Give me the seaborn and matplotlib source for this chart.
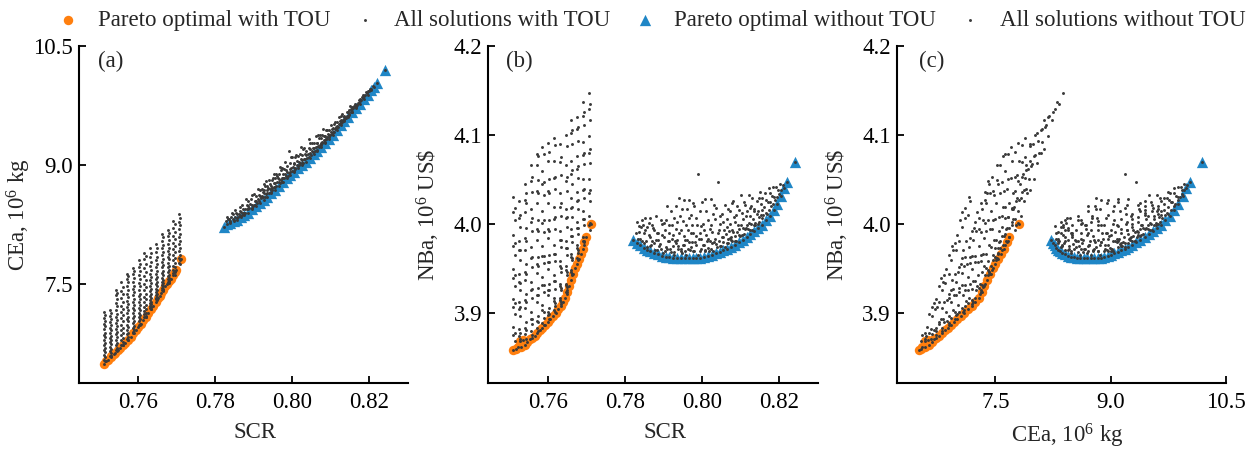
import matplotlib
matplotlib.use("Agg")
import matplotlib.pyplot as plt
import seaborn as sns
import pandas as pd

sns.set_theme(style="ticks")
plt.rcParams["font.family"] = ["Liberation Serif", "DejaVu Serif"]
plt.rcParams["mathtext.fontset"] = "custom"
plt.rcParams["mathtext.rm"] = "Liberation Serif"
plt.rcParams["mathtext.it"] = "Liberation Serif:italic"
plt.rcParams["axes.edgecolor"] = "black"
plt.rcParams["xtick.color"] = "black"
plt.rcParams["ytick.color"] = "black"

FS = 16.5
ORANGE = "#ff7f0e"
BLUE = "#1f86c6"
DOT = "#3a3a3a"

# ---- Pareto optimal solutions with TOU ----
pareto_tou_scr = [0.7511, 0.7517, 0.7522, 0.7528, 0.7530, 0.7536, 0.7540, 0.7547, 0.7553, 0.7560,
                  0.7566, 0.7573, 0.7580, 0.7586, 0.7593, 0.7600, 0.7607, 0.7613, 0.7620, 0.7626,
                  0.7633, 0.7639, 0.7645, 0.7650, 0.7655, 0.7660, 0.7665, 0.7670, 0.7675, 0.7680,
                  0.7685, 0.7690, 0.7695, 0.7698, 0.7712]
pareto_tou_cea = [6.50, 6.53, 6.55, 6.58, 6.59, 6.62, 6.63, 6.67, 6.70, 6.73,
                  6.76, 6.80, 6.84, 6.88, 6.92, 6.96, 7.00, 7.05, 7.09, 7.14,
                  7.19, 7.23, 7.28, 7.32, 7.35, 7.39, 7.43, 7.47, 7.50, 7.54,
                  7.57, 7.61, 7.65, 7.68, 7.81]
pareto_tou_nba = [3.858, 3.859, 3.861, 3.868, 3.862, 3.869, 3.864, 3.867, 3.870, 3.872,
                  3.874, 3.877, 3.880, 3.883, 3.886, 3.889, 3.893, 3.896, 3.900, 3.904,
                  3.908, 3.912, 3.917, 3.923, 3.930, 3.937, 3.944, 3.950, 3.955, 3.960,
                  3.966, 3.972, 3.979, 3.985, 4.000]

# ---- other solutions with TOU (columns of SCR), first pass ----
tou_scr = ([0.7511] * 10 + [0.7526] * 10 + [0.7541] * 11 + [0.7556] * 11 + [0.7571] * 12
           + [0.7586] * 12 + [0.7601] * 12 + [0.7616] * 12 + [0.7631] * 12 + [0.7646] * 12
           + [0.7661] * 12 + [0.7676] * 11 + [0.7691] * 10 + [0.7706] * 8)
tou_cea = [
    6.55, 6.61, 6.67, 6.73, 6.79, 6.86, 6.93, 7.00, 7.07, 7.15,
    6.60, 6.66, 6.71, 6.77, 6.82, 6.89, 6.95, 7.02, 7.10, 7.17,
    6.67, 6.73, 6.80, 6.87, 6.94, 7.01, 7.08, 7.17, 7.26, 7.36, 7.42,
    6.73, 6.79, 6.86, 6.92, 6.99, 7.07, 7.15, 7.23, 7.32, 7.41, 7.52,
    6.81, 6.87, 6.92, 6.99, 7.06, 7.13, 7.21, 7.29, 7.38, 7.47, 7.56, 7.63,
    6.90, 6.95, 7.01, 7.07, 7.14, 7.20, 7.28, 7.36, 7.44, 7.53, 7.63, 7.70,
    6.99, 7.03, 7.08, 7.14, 7.20, 7.27, 7.35, 7.43, 7.51, 7.61, 7.71, 7.80,
    7.09, 7.12, 7.16, 7.21, 7.27, 7.34, 7.42, 7.50, 7.60, 7.70, 7.81, 7.89,
    7.20, 7.23, 7.26, 7.30, 7.35, 7.41, 7.48, 7.55, 7.63, 7.73, 7.84, 7.95,
    7.31, 7.33, 7.36, 7.40, 7.44, 7.50, 7.56, 7.63, 7.71, 7.80, 7.90, 8.01,
    7.42, 7.45, 7.49, 7.53, 7.58, 7.64, 7.71, 7.78, 7.86, 7.95, 8.04, 8.13,
    7.52, 7.56, 7.60, 7.65, 7.71, 7.77, 7.84, 7.92, 8.00, 8.10, 8.18,
    7.64, 7.68, 7.73, 7.80, 7.87, 7.94, 8.02, 8.11, 8.20, 8.30,
    7.77, 7.83, 7.91, 8.00, 8.09, 8.19, 8.28, 8.38,
]
tou_nba = [
    3.875, 3.884, 3.906, 3.915, 3.939, 3.949, 3.975, 3.987, 4.013, 4.030,
    3.874, 3.882, 3.904, 3.912, 3.934, 3.943, 3.970, 3.980, 4.006, 4.025,
    3.876, 3.883, 3.905, 3.914, 3.937, 3.946, 3.971, 3.984, 4.013, 4.027, 4.045,
    3.879, 3.893, 3.901, 3.925, 3.935, 3.961, 3.974, 4.002, 4.016, 4.048, 4.066,
    3.883, 3.891, 3.912, 3.920, 3.945, 3.955, 3.982, 3.994, 4.023, 4.037, 4.066, 4.078,
    3.888, 3.903, 3.909, 3.931, 3.940, 3.964, 3.975, 4.001, 4.014, 4.045, 4.059, 4.086,
    3.897, 3.901, 3.920, 3.926, 3.949, 3.957, 3.984, 3.994, 4.023, 4.037, 4.070, 4.091,
    3.903, 3.913, 3.917, 3.936, 3.942, 3.966, 3.976, 4.005, 4.019, 4.051, 4.070, 4.096,
    3.914, 3.916, 3.930, 3.932, 3.952, 3.958, 3.982, 3.992, 4.019, 4.035, 4.069, 4.089,
    3.923, 3.931, 3.932, 3.948, 3.952, 3.973, 3.981, 4.006, 4.017, 4.048, 4.066, 4.100,
    3.946, 3.948, 3.963, 3.966, 3.986, 3.994, 4.018, 4.029, 4.056, 4.071, 4.102, 4.116,
    3.962, 3.973, 3.976, 3.995, 4.002, 4.025, 4.036, 4.062, 4.076, 4.106, 4.120,
    3.981, 3.985, 4.005, 4.014, 4.038, 4.050, 4.077, 4.092, 4.121, 4.137,
    3.999, 4.009, 4.035, 4.050, 4.079, 4.098, 4.129, 4.147,
]

# ---- other solutions with TOU, second pass ----
tou2_scr = ([0.7514] * 10 + [0.7529] * 10 + [0.7544] * 11 + [0.7559] * 11 + [0.7574] * 12
            + [0.7589] * 12 + [0.7604] * 12 + [0.7619] * 12 + [0.7634] * 12 + [0.7649] * 12
            + [0.7664] * 12 + [0.7679] * 11 + [0.7694] * 10 + [0.7709] * 8)
tou2_cea = [
    6.53, 6.58, 6.64, 6.70, 6.76, 6.83, 6.89, 6.97, 7.04, 7.11,
    6.59, 6.63, 6.68, 6.74, 6.80, 6.85, 6.92, 6.99, 7.06, 7.14,
    6.66, 6.70, 6.76, 6.83, 6.90, 6.97, 7.05, 7.12, 7.22, 7.31, 7.39,
    6.73, 6.77, 6.82, 6.89, 6.95, 7.03, 7.11, 7.19, 7.28, 7.37, 7.46,
    6.80, 6.83, 6.89, 6.96, 7.03, 7.09, 7.17, 7.25, 7.34, 7.43, 7.52, 7.60,
    6.89, 6.92, 6.97, 7.03, 7.10, 7.17, 7.24, 7.31, 7.40, 7.48, 7.58, 7.67,
    6.98, 7.00, 7.06, 7.11, 7.17, 7.24, 7.31, 7.38, 7.47, 7.56, 7.66, 7.75,
    7.08, 7.10, 7.14, 7.19, 7.24, 7.31, 7.38, 7.46, 7.55, 7.65, 7.75, 7.85,
    7.19, 7.21, 7.25, 7.28, 7.33, 7.38, 7.44, 7.51, 7.59, 7.68, 7.78, 7.89,
    7.30, 7.31, 7.34, 7.37, 7.42, 7.47, 7.53, 7.59, 7.67, 7.75, 7.84, 7.95,
    7.41, 7.44, 7.47, 7.51, 7.55, 7.61, 7.67, 7.74, 7.82, 7.90, 7.99, 8.09,
    7.51, 7.54, 7.58, 7.62, 7.68, 7.73, 7.81, 7.88, 7.96, 8.05, 8.14,
    7.62, 7.66, 7.71, 7.76, 7.83, 7.90, 7.98, 8.07, 8.16, 8.25,
    7.75, 7.80, 7.87, 7.95, 8.04, 8.13, 8.24, 8.33,
]
tou2_nba = [
    3.868, 3.877, 3.899, 3.911, 3.930, 3.942, 3.965, 3.978, 4.004, 4.018,
    3.870, 3.877, 3.896, 3.906, 3.926, 3.933, 3.959, 3.970, 3.996, 4.010,
    3.870, 3.881, 3.890, 3.912, 3.921, 3.944, 3.955, 3.980, 3.995, 4.023, 4.034,
    3.875, 3.887, 3.893, 3.917, 3.927, 3.951, 3.963, 3.992, 4.006, 4.036, 4.052,
    3.879, 3.889, 3.896, 3.920, 3.928, 3.953, 3.963, 3.992, 4.004, 4.035, 4.049, 4.076,
    3.886, 3.894, 3.901, 3.923, 3.931, 3.956, 3.964, 3.991, 4.004, 4.032, 4.047, 4.078,
    3.893, 3.899, 3.905, 3.926, 3.932, 3.957, 3.965, 3.992, 4.004, 4.035, 4.050, 4.081,
    3.901, 3.907, 3.911, 3.927, 3.936, 3.958, 3.966, 3.994, 4.007, 4.039, 4.053, 4.088,
    3.910, 3.912, 3.926, 3.928, 3.946, 3.950, 3.974, 3.982, 4.009, 4.023, 4.055, 4.075,
    3.921, 3.925, 3.929, 3.942, 3.946, 3.965, 3.973, 3.996, 4.008, 4.037, 4.052, 4.087,
    3.942, 3.944, 3.959, 3.961, 3.979, 3.986, 4.008, 4.019, 4.045, 4.060, 4.089, 4.105,
    3.959, 3.967, 3.971, 3.988, 3.995, 4.016, 4.027, 4.051, 4.065, 4.093, 4.109,
    3.976, 3.980, 3.998, 4.005, 4.029, 4.039, 4.067, 4.080, 4.111, 4.125,
    3.993, 4.001, 4.025, 4.038, 4.068, 4.084, 4.117, 4.134,
]

# ---- Pareto optimal solutions without TOU ----
pareto_notou_scr = [0.7822, 0.7830, 0.7839, 0.7848, 0.7857, 0.7866, 0.7875, 0.7885, 0.7895, 0.7905,
                    0.7915, 0.7925, 0.7935, 0.7945, 0.7955, 0.7965, 0.7975, 0.7985, 0.7995, 0.8005,
                    0.8015, 0.8025, 0.8035, 0.8045, 0.8055, 0.8065, 0.8075, 0.8085, 0.8095, 0.8105,
                    0.8115, 0.8125, 0.8135, 0.8145, 0.8155, 0.8165, 0.8175, 0.8185, 0.8195, 0.8205,
                    0.8212, 0.8220, 0.8241]
pareto_notou_cea = [8.22, 8.25, 8.27, 8.29, 8.31, 8.34, 8.37, 8.40, 8.44, 8.48,
                    8.52, 8.56, 8.60, 8.65, 8.69, 8.74, 8.78, 8.83, 8.87, 8.91,
                    8.96, 9.00, 9.04, 9.09, 9.14, 9.18, 9.23, 9.28, 9.33, 9.38,
                    9.44, 9.50, 9.55, 9.60, 9.66, 9.71, 9.77, 9.83, 9.88, 9.94,
                    9.98, 10.03, 10.19]
pareto_notou_nba = [3.982, 3.978, 3.976, 3.973, 3.971, 3.969, 3.967, 3.966, 3.964, 3.963,
                    3.963, 3.962, 3.962, 3.962, 3.962, 3.962, 3.962, 3.962, 3.962, 3.963,
                    3.964, 3.965, 3.967, 3.968, 3.970, 3.972, 3.974, 3.976, 3.979, 3.982,
                    3.985, 3.988, 3.992, 3.995, 3.999, 4.004, 4.009, 4.015, 4.022, 4.031,
                    4.040, 4.047, 4.069]

# ---- other solutions without TOU, first pass ----
notou_scr = [
    0.7828, 0.7831, 0.7833, 0.7838, 0.7841, 0.7843, 0.7848, 0.7850, 0.7853, 0.7851,
    0.7858, 0.7861, 0.7863, 0.7868, 0.7871, 0.7873, 0.7869, 0.7878, 0.7881, 0.7883, 0.7880,
    0.7888, 0.7891, 0.7893, 0.7898, 0.7901, 0.7903, 0.7900, 0.7908, 0.7911, 0.7913, 0.7910,
    0.7918, 0.7921, 0.7923, 0.7920, 0.7928, 0.7931, 0.7933, 0.7930, 0.7932, 0.7938, 0.7941,
    0.7943, 0.7940, 0.7948, 0.7951, 0.7953, 0.7950, 0.7952, 0.7958, 0.7961, 0.7963, 0.7960,
    0.7968, 0.7971, 0.7973, 0.7970, 0.7972, 0.7978, 0.7981, 0.7983, 0.7980, 0.7988, 0.7991,
    0.7993, 0.7990, 0.7998, 0.8001, 0.8003, 0.8000, 0.8008, 0.8011, 0.8013, 0.8010, 0.8018,
    0.8021, 0.8023, 0.8020, 0.8022, 0.8028, 0.8031, 0.8033, 0.8030, 0.8038, 0.8041, 0.8043,
    0.8042, 0.8048, 0.8051, 0.8053, 0.8050, 0.8058, 0.8061, 0.8063, 0.8060, 0.8068, 0.8071,
    0.8073, 0.8070, 0.8072, 0.8078, 0.8081, 0.8083, 0.8080, 0.8088, 0.8091, 0.8093, 0.8090,
    0.8098, 0.8101, 0.8103, 0.8100, 0.8108, 0.8111, 0.8113, 0.8110, 0.8118, 0.8121, 0.8123,
    0.8120, 0.8128, 0.8131, 0.8133, 0.8130, 0.8138, 0.8141, 0.8143, 0.8148, 0.8151, 0.8153,
    0.8150, 0.8158, 0.8161, 0.8163, 0.8168, 0.8171, 0.8173, 0.8178, 0.8181, 0.8183, 0.8188,
    0.8191, 0.8198, 0.8201, 0.8209,
]
notou_cea = [
    8.29, 8.35, 8.32, 8.29, 8.35, 8.40, 8.31, 8.35, 8.40, 8.43,
    8.35, 8.38, 8.42, 8.37, 8.40, 8.44, 8.50, 8.40, 8.44, 8.50, 8.57,
    8.46, 8.51, 8.57, 8.48, 8.50, 8.55, 8.63, 8.52, 8.57, 8.62, 8.70,
    8.58, 8.61, 8.66, 8.70, 8.60, 8.63, 8.68, 8.73, 8.80, 8.65, 8.70,
    8.76, 8.81, 8.69, 8.72, 8.77, 8.83, 8.88, 8.74, 8.78, 8.84, 8.86,
    8.77, 8.81, 8.84, 8.94, 8.96, 8.83, 8.88, 8.94, 9.04, 8.86, 8.90,
    8.95, 9.18, 8.92, 8.97, 9.03, 9.10, 8.95, 9.00, 9.05, 9.12, 9.00,
    9.03, 9.08, 9.14, 9.22, 9.03, 9.08, 9.14, 9.21, 9.09, 9.14, 9.21,
    9.33, 9.13, 9.17, 9.21, 9.28, 9.18, 9.23, 9.28, 9.36, 9.22, 9.25,
    9.28, 9.34, 9.38, 9.28, 9.31, 9.36, 9.45, 9.32, 9.35, 9.39, 9.44,
    9.38, 9.41, 9.45, 9.50, 9.42, 9.45, 9.48, 9.54, 9.48, 9.51, 9.55,
    9.60, 9.54, 9.56, 9.60, 9.64, 9.59, 9.62, 9.66, 9.64, 9.66, 9.70,
    9.74, 9.71, 9.74, 9.77, 9.75, 9.78, 9.82, 9.82, 9.85, 9.88, 9.88,
    9.92, 9.93, 9.96, 9.99,
]
notou_nba = [
    3.989, 4.002, 3.983, 3.983, 3.996, 4.004, 3.978, 3.990, 3.993, 4.006,
    3.974, 3.987, 4.001, 3.976, 3.980, 3.995, 3.999, 3.971, 3.982, 3.989, 4.009,
    3.975, 3.977, 4.004, 3.967, 3.985, 3.993, 4.001, 3.972, 3.980, 3.989, 4.020,
    3.968, 3.983, 3.999, 4.014, 3.965, 3.978, 3.994, 3.981, 4.020, 3.972, 3.989,
    4.009, 4.029, 3.967, 3.976, 3.986, 4.003, 4.027, 3.965, 3.982, 3.993, 4.016,
    3.970, 3.974, 3.999, 3.989, 4.010, 3.969, 3.979, 4.006, 4.020, 3.965, 3.983,
    3.990, 4.056, 3.972, 3.976, 4.000, 4.024, 3.970, 3.987, 3.980, 4.014, 3.969,
    3.981, 3.998, 3.994, 4.028, 3.969, 3.979, 4.005, 4.021, 3.974, 3.990, 3.993,
    4.047, 3.975, 3.985, 4.002, 4.011, 3.974, 3.988, 3.996, 4.021, 3.978, 3.984,
    4.000, 3.992, 4.014, 3.981, 3.991, 4.007, 4.025, 3.981, 3.991, 3.999, 4.020,
    3.986, 3.999, 4.012, 4.032, 3.988, 3.994, 4.009, 4.021, 3.994, 4.001, 4.018,
    4.032, 3.993, 4.005, 4.014, 4.029, 3.999, 4.011, 4.026, 4.002, 4.010, 4.022,
    4.036, 4.010, 4.019, 4.035, 4.011, 4.024, 4.040, 4.020, 4.031, 4.041, 4.027,
    4.041, 4.033, 4.045, 4.043,
]

# ---- other solutions without TOU, second pass ----
notou2_scr = [
    0.7835, 0.7837, 0.7845, 0.7846, 0.7855, 0.7856, 0.7864, 0.7866, 0.7865,
    0.7875, 0.7876, 0.7884, 0.7886, 0.7885, 0.7894, 0.7896, 0.7895, 0.7904, 0.7906, 0.7905,
    0.7914, 0.7916, 0.7915, 0.7924, 0.7926, 0.7925, 0.7927, 0.7934, 0.7936, 0.7935,
    0.7944, 0.7946, 0.7945, 0.7947, 0.7954, 0.7956, 0.7955, 0.7957, 0.7964, 0.7966, 0.7965, 0.7967,
    0.7974, 0.7976, 0.7975, 0.7977, 0.7984, 0.7986, 0.7985, 0.7994, 0.7996, 0.7995, 0.7997,
    0.8004, 0.8006, 0.8005, 0.8007, 0.8014, 0.8016, 0.8015, 0.8024, 0.8026, 0.8025, 0.8027,
    0.8034, 0.8036, 0.8035, 0.8044, 0.8046, 0.8045, 0.8047, 0.8054, 0.8056, 0.8055,
    0.8064, 0.8066, 0.8065, 0.8067, 0.8074, 0.8076, 0.8075, 0.8077, 0.8084, 0.8086, 0.8085, 0.8087,
    0.8094, 0.8096, 0.8095, 0.8104, 0.8106, 0.8105, 0.8107, 0.8114, 0.8116, 0.8115,
    0.8124, 0.8126, 0.8125, 0.8127, 0.8134, 0.8136, 0.8135, 0.8144, 0.8146, 0.8145, 0.8147,
    0.8154, 0.8156, 0.8155, 0.8164, 0.8166, 0.8174, 0.8176, 0.8175, 0.8184, 0.8186,
    0.8194, 0.8196, 0.8205,
]
notou2_cea = [
    8.32, 8.28, 8.32, 8.38, 8.33, 8.38, 8.36, 8.41, 8.47,
    8.39, 8.44, 8.45, 8.48, 8.54, 8.46, 8.50, 8.62, 8.49, 8.55, 8.61,
    8.55, 8.61, 8.68, 8.59, 8.64, 8.69, 8.76, 8.64, 8.71, 8.74,
    8.66, 8.71, 8.74, 8.81, 8.72, 8.77, 8.83, 8.88, 8.78, 8.82, 8.88, 8.97,
    8.79, 8.84, 8.89, 8.95, 8.86, 8.91, 8.98, 8.91, 8.96, 9.03, 9.10,
    8.92, 8.96, 9.01, 9.10, 8.99, 9.04, 9.11, 9.02, 9.06, 9.13, 9.20,
    9.08, 9.12, 9.18, 9.10, 9.15, 9.20, 9.27, 9.16, 9.21, 9.27,
    9.19, 9.24, 9.28, 9.37, 9.25, 9.29, 9.34, 9.38, 9.29, 9.32, 9.36, 9.44,
    9.35, 9.38, 9.44, 9.39, 9.42, 9.46, 9.52, 9.46, 9.49, 9.54,
    9.51, 9.53, 9.56, 9.61, 9.56, 9.59, 9.62, 9.61, 9.63, 9.66, 9.69,
    9.67, 9.70, 9.73, 9.73, 9.76, 9.78, 9.80, 9.83, 9.84, 9.87,
    9.90, 9.93, 9.96,
]
notou2_nba = [
    3.991, 3.997, 3.980, 3.999, 3.981, 3.996, 3.975, 3.985, 4.006,
    3.978, 3.993, 3.971, 3.990, 3.982, 3.972, 3.987, 4.000, 3.969, 3.974, 4.004,
    3.981, 3.972, 3.998, 3.975, 3.968, 3.987, 4.006, 3.982, 3.975, 4.002,
    3.972, 3.969, 3.993, 4.016, 3.976, 3.969, 3.982, 3.999, 3.972, 4.006, 3.979, 4.027,
    3.979, 3.969, 3.989, 4.023, 3.976, 3.999, 3.986, 3.969, 3.983, 4.014, 3.997,
    3.976, 3.969, 3.993, 4.028, 3.973, 4.004, 3.983, 3.972, 3.991, 3.978, 4.011,
    3.983, 3.977, 4.018, 3.981, 3.975, 4.000, 4.009, 3.979, 3.993, 3.985,
    3.978, 3.983, 4.005, 4.016, 3.982, 3.993, 3.985, 4.023, 3.986, 3.981, 4.002, 4.010,
    3.987, 3.994, 4.015, 3.987, 3.995, 4.005, 4.024, 3.995, 3.999, 4.014,
    3.993, 4.000, 4.009, 4.020, 3.999, 4.001, 4.016, 4.000, 4.008, 4.014, 4.029,
    4.006, 4.015, 4.029, 4.012, 4.027, 4.015, 4.024, 4.034, 4.022, 4.030,
    4.030, 4.038, 4.038,
]

pareto_tou = pd.DataFrame({"SCR": pareto_tou_scr, "CEa": pareto_tou_cea, "NBa": pareto_tou_nba})
all_tou = pd.concat([
    pd.DataFrame({"SCR": tou_scr, "CEa": tou_cea, "NBa": tou_nba}),
    pd.DataFrame({"SCR": tou2_scr, "CEa": tou2_cea, "NBa": tou2_nba}),
    pareto_tou,
])
pareto_notou = pd.DataFrame({"SCR": pareto_notou_scr, "CEa": pareto_notou_cea, "NBa": pareto_notou_nba})
all_notou = pd.concat([
    pd.DataFrame({"SCR": notou_scr, "CEa": notou_cea, "NBa": notou_nba}),
    pd.DataFrame({"SCR": notou2_scr, "CEa": notou2_cea, "NBa": notou2_nba}),
    pareto_notou,
])

fig = plt.figure(figsize=(12.56, 4.49), dpi=100)

panels = [
    ("SCR", "CEa", [0.0629, 0.147, 0.2619, 0.7512], (0.7446, 0.830), (6.255, 10.5),
     [0.76, 0.78, 0.80, 0.82], [7.5, 9.0, 10.5], "SCR", r"CEa, $10^6$ kg", "(a)", 0.057, 0.535, "{:.2f}"),
    ("SCR", "NBa", [0.3888, 0.147, 0.2625, 0.7512], (0.7446, 0.830), (3.821, 4.2),
     [0.76, 0.78, 0.80, 0.82], [3.9, 4.0, 4.1, 4.2], "SCR", r"NBa, $10^6$ US\$", "(b)", 0.054, 0.536, "{:.2f}"),
    ("CEa", "NBa", [0.7142, 0.147, 0.2619, 0.7512], (6.22, 10.5), (3.821, 4.2),
     [7.5, 9.0, 10.5], [3.9, 4.0, 4.1, 4.2], r"CEa, $10^6$ kg", r"NBa, $10^6$ US\$", "(c)", 0.067, 0.517, "{:.1f}"),
]

handles = None
for xc, yc, box, xlim, ylim, xt, yt, xl, yl, tag, tagx, xlx, xfmt in panels:
    ax = fig.add_axes(box)
    sns.scatterplot(data=pareto_tou, x=xc, y=yc, marker="o", s=46, color=ORANGE,
                    linewidth=0, ax=ax, label="Pareto optimal with TOU")
    sns.scatterplot(data=all_tou, x=xc, y=yc, marker="o", s=4.5, color=DOT,
                    linewidth=0, ax=ax, label="All solutions with TOU")
    sns.scatterplot(data=pareto_notou, x=xc, y=yc, marker="^", s=66, color=BLUE,
                    linewidth=0, ax=ax, label="Pareto optimal without TOU")
    sns.scatterplot(data=all_notou, x=xc, y=yc, marker="o", s=4.5, color=DOT,
                    linewidth=0, ax=ax, label="All solutions without TOU")
    if handles is None:
        handles, labels = ax.get_legend_handles_labels()
    if ax.get_legend() is not None:
        ax.get_legend().remove()

    ax.set_xlim(xlim)
    ax.set_ylim(ylim)
    ax.set_xticks(xt)
    ax.set_yticks(yt)
    ax.set_xticklabels([xfmt.format(v) for v in xt])
    ax.set_yticklabels(["{:.1f}".format(v) for v in yt])
    ax.set_xlabel(xl, fontsize=FS)
    ax.set_ylabel(yl, fontsize=FS)
    ax.xaxis.set_label_coords(xlx, -0.115)
    ax.yaxis.set_label_coords(-0.14, 0.5)
    ax.tick_params(axis="both", direction="in", length=5, width=1.3, labelsize=FS)
    ax.tick_params(axis="x", pad=6.5)
    ax.tick_params(axis="y", pad=4.5)
    sns.despine(ax=ax)
    for sp in ["left", "bottom"]:
        ax.spines[sp].set_linewidth(1.5)
        ax.spines[sp].set_color("black")
    ax.text(tagx, 0.985, tag, transform=ax.transAxes, ha="left", va="top", fontsize=FS)

fig.legend(handles, labels, loc="center", bbox_to_anchor=(0.5185, 0.955), ncol=4,
           frameon=False, fontsize=FS, handlelength=1.0, handletextpad=0.8,
           columnspacing=0.98, borderpad=0, borderaxespad=0, scatterpoints=1)

fig.savefig("out.png", dpi=100)
